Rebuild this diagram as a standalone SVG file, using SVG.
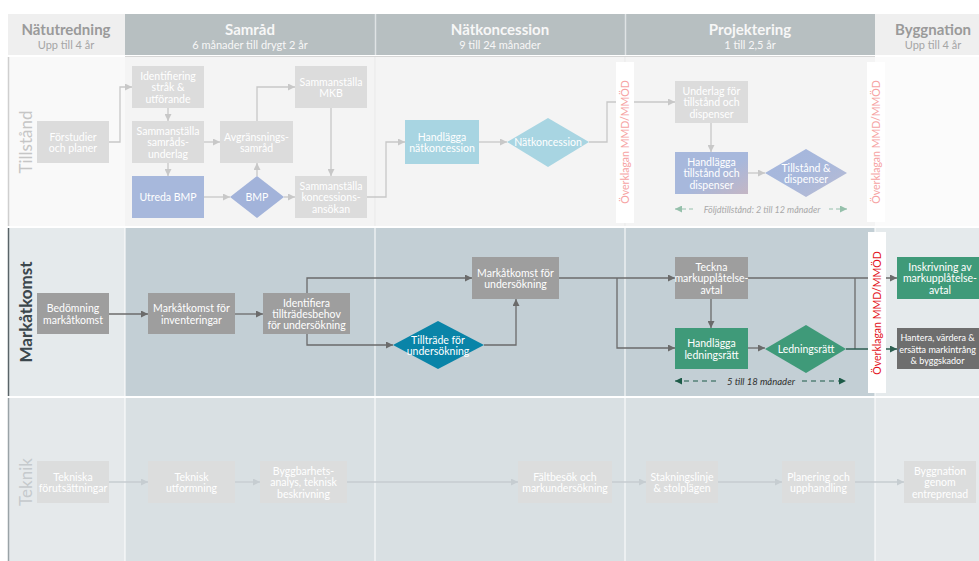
<svg xmlns="http://www.w3.org/2000/svg" width="979" height="561" viewBox="0 0 979 561">
<defs>
<style>
text{font-family:Lato,"Open Sans","Liberation Sans",sans-serif}
.nt{font-size:10.5px;fill:#fff;text-anchor:middle;dominant-baseline:central}
.nt.small{font-size:9px}
.n-light{fill:#dcdcdc}
.n-blue{fill:#a7b8dc}
.n-cyan{fill:#a8d5e2}
.n-gray{fill:#9e9e9e}
.n-green{fill:#3f9a79}
.n-dark{fill:#6e6e6e}
.n-teal{fill:#0984a8}
.n-tek{fill:#dcdddd}
.c-t{fill:none;stroke:#c8c8c8;stroke-width:1.3}
.c-m{fill:none;stroke:#6b6b6b;stroke-width:1.3}
.c-g{fill:none;stroke:#2c5e50;stroke-width:1.3}
.c-k{fill:none;stroke:#c6cdd1;stroke-width:1.3}
.h1{font-size:15px;font-weight:bold;text-anchor:middle}
.h2{font-size:11px;text-anchor:middle}
.lane{font-size:17px;text-anchor:middle;dominant-baseline:central}
.appeal{font-size:10.5px;text-anchor:middle;dominant-baseline:central}
.dur{font-size:9px;font-style:italic;text-anchor:middle;dominant-baseline:central}
</style>
<marker id="aT" viewBox="0 0 8 8" refX="8" refY="4" markerWidth="7" markerHeight="7" markerUnits="userSpaceOnUse" orient="auto"><path d="M0,0L8,4L0,8z" fill="#c8c8c8"/></marker>
<marker id="aM" viewBox="0 0 8 8" refX="8" refY="4" markerWidth="7" markerHeight="7" markerUnits="userSpaceOnUse" orient="auto"><path d="M0,0L8,4L0,8z" fill="#6b6b6b"/></marker>
<marker id="aG" viewBox="0 0 8 8" refX="8" refY="4" markerWidth="7" markerHeight="7" markerUnits="userSpaceOnUse" orient="auto"><path d="M0,0L8,4L0,8z" fill="#2c5e50"/></marker>
<marker id="aK" viewBox="0 0 8 8" refX="8" refY="4" markerWidth="7" markerHeight="7" markerUnits="userSpaceOnUse" orient="auto"><path d="M0,0L8,4L0,8z" fill="#c6cdd1"/></marker>
<marker id="aL" viewBox="0 0 8 8" refX="8" refY="4" markerWidth="7" markerHeight="7" markerUnits="userSpaceOnUse" orient="auto-start-reverse"><path d="M0,0L8,4L0,8z" fill="#95c0ab"/></marker>
<marker id="aD" viewBox="0 0 8 8" refX="8" refY="4" markerWidth="7" markerHeight="7" markerUnits="userSpaceOnUse" orient="auto-start-reverse"><path d="M0,0L8,4L0,8z" fill="#1d5b48"/></marker>
<linearGradient id="gb" x1="0" y1="0" x2="1" y2="1"><stop offset="0" stop-color="#a7b8dc"/><stop offset="0.55" stop-color="#a7b8dc"/><stop offset="1" stop-color="#c4b6c4"/></linearGradient>
<linearGradient id="gd" x1="0" y1="0" x2="1" y2="1"><stop offset="0" stop-color="#a5b6dc"/><stop offset="0.5" stop-color="#a7b8dc"/><stop offset="1" stop-color="#bcbcd2"/></linearGradient>
</defs>
<rect width="979" height="561" fill="#ffffff"/>
<g id="background">
<rect x="8" y="14" width="117" height="41" fill="#efefef"/>
<rect x="125" y="14" width="750" height="41" fill="#b7bfc1"/>
<rect x="875" y="14" width="104" height="41" fill="#efefef"/>
<line x1="375.5" y1="14" x2="375.5" y2="55" stroke="#dfe3e4" stroke-width="1.5"/>
<line x1="625.5" y1="14" x2="625.5" y2="55" stroke="#dfe3e4" stroke-width="1.5"/>
<rect x="8" y="57" width="117" height="169" fill="#f9f9f9"/>
<rect x="125" y="57" width="750" height="169" fill="#f4f4f4"/>
<rect x="875" y="57" width="104" height="169" fill="#fbfbfb"/>
<line x1="125" y1="56.5" x2="875" y2="56.5" stroke="#d6d6d6" stroke-width="1"/>
<line x1="375" y1="57" x2="375" y2="226" stroke="#e9e9e9" stroke-width="1"/>
<line x1="625" y1="57" x2="625" y2="226" stroke="#e9e9e9" stroke-width="1"/>
<rect x="8" y="228" width="117" height="168" fill="#e5eaec"/>
<rect x="125" y="228" width="750" height="168" fill="#c3cfd5"/>
<rect x="875" y="228" width="104" height="168" fill="#e5eaec"/>
<rect x="8" y="398" width="117" height="163" fill="#e5e9eb"/>
<rect x="125" y="398" width="750" height="163" fill="#d9e0e3"/>
<rect x="875" y="398" width="104" height="163" fill="#e5e9eb"/>
<line x1="125" y1="228" x2="125" y2="561" stroke="#ffffff" stroke-width="1"/>
<line x1="375" y1="228" x2="375" y2="561" stroke="#ffffff" stroke-width="1"/>
<line x1="625" y1="228" x2="625" y2="561" stroke="#ffffff" stroke-width="1"/>
<line x1="875" y1="228" x2="875" y2="561" stroke="#ffffff" stroke-width="1"/>
<line x1="8.5" y1="57" x2="8.5" y2="226" stroke="#cfcfcf" stroke-width="1.5"/>
<line x1="8.5" y1="228" x2="8.5" y2="396" stroke="#5a6468" stroke-width="1.5"/>
<line x1="8.5" y1="398" x2="8.5" y2="561" stroke="#9aa3a7" stroke-width="1.5"/>
</g>
<g id="headers">
<g id="h-natutredning"><text class="h1" x="66" y="35" fill="#9a9a9a">Nätutredning</text><text class="h2" x="66" y="49" fill="#a5a5a5">Upp till 4 år</text></g>
<g id="h-samrad"><text class="h1" x="250" y="35" fill="#f7f7f7">Samråd</text><text class="h2" x="250" y="49" fill="#f7f7f7">6 månader till drygt 2 år</text></g>
<g id="h-natkoncession"><text class="h1" x="500" y="35" fill="#f7f7f7">Nätkoncession</text><text class="h2" x="500" y="49" fill="#f7f7f7">9 till 24 månader</text></g>
<g id="h-projektering"><text class="h1" x="750" y="35" fill="#f7f7f7">Projektering</text><text class="h2" x="750" y="49" fill="#f7f7f7">1 till 2,5 år</text></g>
<g id="h-byggnation"><text class="h1" x="933" y="35" fill="#9a9a9a">Byggnation</text><text class="h2" x="933" y="49" fill="#a5a5a5">Upp till 4 år</text></g>
</g>
<g id="lanes">
<text class="lane" x="25" y="142" fill="#c6c6c6" transform="rotate(-90 25 142)">Tillstånd</text>
<text class="lane" x="25" y="312" fill="#3c474c" font-weight="bold" transform="rotate(-90 25 312)">Markåtkomst</text>
<text class="lane" x="25" y="482" fill="#c5cacd" transform="rotate(-90 25 482)">Teknik</text>
</g>
<g id="connectors">
<path class="c-t" marker-end="url(#aT)" d="M109,142H120V87H132"/>
<path class="c-t" marker-end="url(#aT)" d="M168,108V121"/>
<path class="c-t" marker-end="url(#aT)" d="M168,163V176"/>
<path class="c-t" marker-end="url(#aT)" d="M204,142H220"/>
<path class="c-t" marker-end="url(#aT)" d="M204,197H230"/>
<path class="c-t" marker-end="url(#aT)" d="M257,176V163"/>
<path class="c-t" marker-end="url(#aT)" d="M284,197H295"/>
<path class="c-t" marker-end="url(#aT)" d="M257,121V87H295"/>
<path class="c-t" marker-end="url(#aT)" d="M331,108V176"/>
<path class="c-t" marker-end="url(#aT)" d="M367,197H386V142H405"/>
<path class="c-t" marker-end="url(#aT)" d="M479,142H507"/>
<path class="c-t" marker-end="url(#aT)" d="M589,142H607V102H675"/>
<path class="c-t" marker-end="url(#aT)" d="M711,123V152"/>
<path class="c-t" marker-end="url(#aT)" d="M748,173H765"/>
<path class="c-m" marker-end="url(#aM)" d="M109,314H148"/>
<path class="c-m" marker-end="url(#aM)" d="M235,314H263"/>
<path class="c-m" marker-end="url(#aM)" d="M307,293V278H472"/>
<path class="c-m" marker-end="url(#aM)" d="M307,334V345H393"/>
<path class="c-m" marker-end="url(#aM)" d="M484,345H516V299"/>
<path class="c-m" marker-end="url(#aM)" d="M559,278H675"/>
<path class="c-m" marker-end="url(#aM)" d="M617,278V348H675"/>
<path class="c-m" marker-end="url(#aM)" d="M711,299V328"/>
<path class="c-m" marker-end="url(#aM)" d="M748,348H765"/>
<path class="c-m" marker-end="url(#aM)" d="M748,278H897"/>
<path class="c-m" d="M855,278V349"/>
<path class="c-g" marker-end="url(#aG)" d="M846,349H897"/>
<path class="c-k" marker-end="url(#aK)" d="M109,482H148"/>
<path class="c-k" marker-end="url(#aK)" d="M235,482H260"/>
<path class="c-k" marker-end="url(#aK)" d="M347,482H518"/>
<path class="c-k" marker-end="url(#aK)" d="M612,482H646"/>
<path class="c-k" marker-end="url(#aK)" d="M718,482H782"/>
<path class="c-k" marker-end="url(#aK)" d="M855,482H904"/>
<path fill="none" stroke="#95c0ab" stroke-width="1.2" stroke-dasharray="4 3" marker-start="url(#aL)" d="M675,209H696"/>
<path fill="none" stroke="#95c0ab" stroke-width="1.2" stroke-dasharray="4 3" marker-end="url(#aL)" d="M829,209H847"/>
<path fill="none" stroke="#1d5b48" stroke-width="1.2" stroke-dasharray="5 4" marker-start="url(#aD)" d="M675,381H716"/>
<path fill="none" stroke="#1d5b48" stroke-width="1.2" stroke-dasharray="5 4" marker-end="url(#aD)" d="M802,381H846"/>
</g>
<g id="durations">
<text class="dur" x="762" y="209" fill="#a9a9a9">Följdtillstånd: 2 till 12 månader</text>
<text class="dur" x="761" y="381" fill="#2f2f2f" style="font-size:9.5px">5 till 18 månader</text>
</g>
<g id="appeals">
<g id="appeal-1"><rect x="616" y="62" width="18" height="161" fill="#ffffff"/><text class="appeal" x="625" y="142" fill="#f6a3a3" transform="rotate(-90 625 142)">Överklagan MMD/MMÖD</text></g>
<g id="appeal-2"><rect x="867" y="62" width="18" height="160" fill="#ffffff"/><text class="appeal" x="876" y="142" fill="#f6a3a3" transform="rotate(-90 876 142)">Överklagan MMD/MMÖD</text></g>
<g id="appeal-3"><rect x="868" y="232" width="18" height="161" fill="#ffffff"/><text class="appeal" x="877" y="313" fill="#e3141c" transform="rotate(-90 877 313)">Överklagan MMD/MMÖD</text></g>
</g>
<g id="n-forstudier"><rect class="n-light" x="37" y="121" width="72" height="42"/><text class="nt"><tspan x="73" y="136.5">Förstudier</tspan><tspan x="73" y="148">och planer</tspan></text></g>
<g id="n-identifiering"><rect class="n-light" x="132" y="66" width="72" height="42"/><text class="nt"><tspan x="168" y="75.5">Identifiering</tspan><tspan x="168" y="87">stråk &amp;</tspan><tspan x="168" y="98.5">utförande</tspan></text></g>
<g id="n-samradsunderlag"><rect class="n-light" x="132" y="121" width="72" height="42"/><text class="nt"><tspan x="168" y="130.5">Sammanställa</tspan><tspan x="168" y="142">samråds-</tspan><tspan x="168" y="153.5">underlag</tspan></text></g>
<g id="n-utreda-bmp"><rect class="n-blue" x="132" y="176" width="72" height="42"/><text class="nt" x="168" y="197">Utreda BMP</text></g>
<g id="n-avgransning"><rect class="n-light" x="220" y="121" width="73" height="42"/><text class="nt"><tspan x="256.5" y="136.5">Avgränsnings-</tspan><tspan x="256.5" y="148">samråd</tspan></text></g>
<g id="n-bmp"><polygon points="230,197 257,176 284,197 257,218" fill="#a2b3da"/><text class="nt" x="257" y="197">BMP</text></g>
<g id="n-mkb"><rect class="n-light" x="295" y="66" width="72" height="42"/><text class="nt"><tspan x="331" y="81.5">Sammanställa</tspan><tspan x="331" y="93">MKB</tspan></text></g>
<g id="n-koncessionsansokan"><rect class="n-light" x="295" y="176" width="72" height="42"/><text class="nt"><tspan x="331" y="185.5">Sammanställa</tspan><tspan x="331" y="197">koncessions-</tspan><tspan x="331" y="208.5">ansökan</tspan></text></g>
<g id="n-handlagga-natkoncession"><rect class="n-cyan" x="405" y="120" width="74" height="44"/><text class="nt"><tspan x="442" y="136.5">Handlägga</tspan><tspan x="442" y="148">nätkoncession</tspan></text></g>
<g id="n-natkoncession"><polygon class="n-cyan" points="507,142 548,118 589,142 548,167"/><text class="nt" x="548" y="142">Nätkoncession</text></g>
<g id="n-underlag"><rect class="n-light" x="675" y="81" width="73" height="42"/><text class="nt"><tspan x="711.5" y="90.5">Underlag för</tspan><tspan x="711.5" y="102">tillstånd och</tspan><tspan x="711.5" y="113.5">dispenser</tspan></text></g>
<g id="n-handlagga-tillstand"><rect x="675" y="152" width="73" height="42" fill="url(#gb)"/><text class="nt"><tspan x="711.5" y="161.5">Handlägga</tspan><tspan x="711.5" y="173">tillstånd och</tspan><tspan x="711.5" y="184.5">dispenser</tspan></text></g>
<g id="n-tillstand-dispenser"><polygon points="765,173 806,149 847,173 806,197" fill="url(#gd)"/><text class="nt"><tspan x="806" y="167.5">Tillstånd &amp;</tspan><tspan x="806" y="179">dispenser</tspan></text></g>
<g id="n-bedomning"><rect class="n-gray" x="37" y="293" width="72" height="41"/><text class="nt"><tspan x="73" y="308">Bedömning</tspan><tspan x="73" y="319.5">markåtkomst</tspan></text></g>
<g id="n-inventeringar"><rect class="n-gray" x="148" y="293" width="87" height="41"/><text class="nt"><tspan x="191.5" y="308">Markåtkomst för</tspan><tspan x="191.5" y="319.5">inventeringar</tspan></text></g>
<g id="n-identifiera"><rect class="n-gray" x="263" y="293" width="87" height="41"/><text class="nt"><tspan x="306.5" y="302.5">Identifiera</tspan><tspan x="306.5" y="313.5">tillträdesbehov</tspan><tspan x="306.5" y="324.5">för undersökning</tspan></text></g>
<g id="n-markatkomst-undersokning"><rect class="n-gray" x="472" y="257" width="87" height="42"/><text class="nt"><tspan x="515.5" y="272.5">Markåtkomst för</tspan><tspan x="515.5" y="284">undersökning</tspan></text></g>
<g id="n-tilltrade"><polygon class="n-teal" points="393,345 438,321 484,345 438,369"/><text class="nt"><tspan x="438" y="339.5">Tillträde för</tspan><tspan x="438" y="351">undersökning</tspan></text></g>
<g id="n-teckna"><rect class="n-gray" x="675" y="257" width="73" height="42"/><text class="nt"><tspan x="711.5" y="266.5">Teckna</tspan><tspan x="711.5" y="278">markupplåtelse-</tspan><tspan x="711.5" y="289.5">avtal</tspan></text></g>
<g id="n-handlagga-ledningsratt"><rect class="n-green" x="675" y="328" width="73" height="41"/><text class="nt"><tspan x="711.5" y="343">Handlägga</tspan><tspan x="711.5" y="354.5">ledningsrätt</tspan></text></g>
<g id="n-ledningsratt"><polygon class="n-green" points="765,349 806,325 846,349 806,373"/><text class="nt" x="806" y="349">Ledningsrätt</text></g>
<g id="n-inskrivning"><rect class="n-green" x="897" y="257" width="88" height="42"/><text class="nt"><tspan x="940" y="266.5">Inskrivning av</tspan><tspan x="940" y="278">markupplåtelse-</tspan><tspan x="940" y="289.5">avtal</tspan></text></g>
<g id="n-hantera"><rect class="n-dark" x="897" y="328" width="88" height="41"/><text class="nt small"><tspan x="937.5" y="337">Hantera, värdera &amp;</tspan><tspan x="937.5" y="348.5">ersätta markintrång</tspan><tspan x="937.5" y="360">&amp; byggskador</tspan></text></g>
<g id="n-tekniska"><rect class="n-tek" x="37" y="461" width="72" height="42"/><text class="nt"><tspan x="73" y="476.5">Tekniska</tspan><tspan x="73" y="488">förutsättningar</tspan></text></g>
<g id="n-teknisk-utformning"><rect class="n-tek" x="148" y="461" width="87" height="42"/><text class="nt"><tspan x="191.5" y="476.5">Teknisk</tspan><tspan x="191.5" y="488">utformning</tspan></text></g>
<g id="n-byggbarhet"><rect class="n-tek" x="260" y="461" width="87" height="42"/><text class="nt"><tspan x="303.5" y="470.5">Byggbarhets-</tspan><tspan x="303.5" y="482">analys, teknisk</tspan><tspan x="303.5" y="493.5">beskrivning</tspan></text></g>
<g id="n-faltbesok"><rect class="n-tek" x="518" y="461" width="94" height="42"/><text class="nt"><tspan x="565" y="476.5">Fältbesök och</tspan><tspan x="565" y="488">markundersökning</tspan></text></g>
<g id="n-stakning"><rect class="n-tek" x="646" y="461" width="72" height="42"/><text class="nt"><tspan x="682" y="476.5">Stakningslinje</tspan><tspan x="682" y="488">&amp; stolplägen</tspan></text></g>
<g id="n-planering"><rect class="n-tek" x="782" y="461" width="73" height="42"/><text class="nt"><tspan x="818.5" y="476.5">Planering och</tspan><tspan x="818.5" y="488">upphandling</tspan></text></g>
<g id="n-byggnation"><rect class="n-tek" x="904" y="461" width="72" height="42"/><text class="nt"><tspan x="940" y="470.5">Byggnation</tspan><tspan x="940" y="482">genom</tspan><tspan x="940" y="493.5">entreprenad</tspan></text></g>
</svg>
